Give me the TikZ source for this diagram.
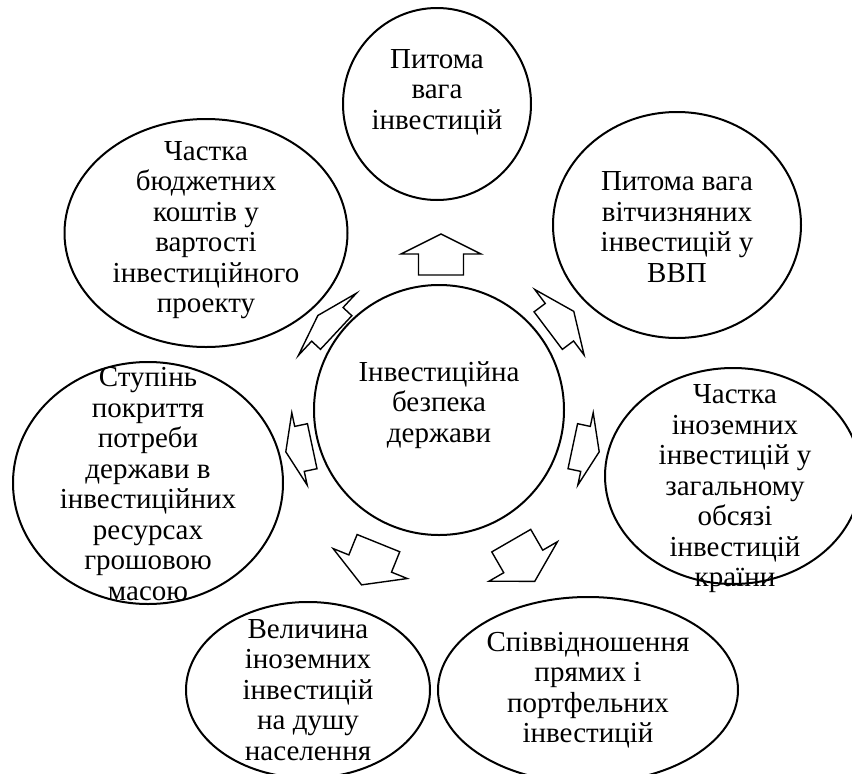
\documentclass[tikz,border=0pt]{standalone}
\usepackage{fontspec}
\setmainfont{Liberation Serif}
\usetikzlibrary{shapes.geometric}
\tikzset{
 ell/.style={draw, ellipse, line width=2pt, inner sep=0pt},
 lbl/.style={inner sep=0pt, align=center, font=\fontsize{29}{30.5}\selectfont},
 barrow/.style={draw, line width=1.4pt, line join=miter, fill=white},
}
\newcommand{\blockarr}[7]{%
 \pgfmathsetmacro{\bxa}{-(#6+#7)/2}%
 \pgfmathsetmacro{\bxm}{-(#6+#7)/2+#7}%
 \pgfmathsetmacro{\bxt}{(#6+#7)/2}%
 \draw[barrow,shift={(#1,-#2)},rotate=#3] (\bxa,-#5/2) -- (\bxm,-#5/2) -- (\bxm,-#4/2) -- (\bxt,0) -- (\bxm,#4/2) -- (\bxm,#5/2) -- (\bxa,#5/2) -- cycle;}
\begin{document}
\begin{tikzpicture}[x=1pt,y=1pt]
\useasboundingbox (0,0) rectangle (852,-774);
\fill[white] (0,0) rectangle (852,-774);
% ellipses
\node[ell, minimum width=250pt, minimum height=250pt] (c) at (439,-410) {};
\node[ell, minimum width=188pt, minimum height=192pt] (t) at (437,-104) {};
\node[ell, minimum width=248pt, minimum height=226pt] (tr) at (677,-225) {};
\node[ell, minimum width=256pt, minimum height=216pt] (r) at (733,-476) {};
\node[ell, minimum width=300pt, minimum height=186pt] (br) at (588,-690) {};
\node[ell, minimum width=244pt, minimum height=176pt] (bl) at (308,-690) {};
\node[ell, minimum width=270pt, minimum height=242pt] (l) at (148,-483) {};
\node[ell, minimum width=283pt, minimum height=228pt] (tl) at (206,-233) {};
% texts
\node[lbl] (c-t) at (439,-405) {Інвестиційна\\безпека\\держави};
\node[lbl] (t-t) at (437,-92) {Питома\\вага\\інвестицій};
\node[lbl] (tr-t) at (677,-227) {Питома вага\\вітчизняних\\інвестицій у\\ВВП};
\node[lbl] (r-t) at (735,-489) {Частка\\іноземних\\інвестицій у\\загальному\\обсязі\\інвестицій\\країни};
\node[lbl] (br-t) at (588,-690) {Співвідношення\\прямих і\\портфельних\\інвестицій};
\node[lbl] (bl-t) at (308,-690) {Величина\\іноземних\\інвестицій\\на душу\\населення};
\node[lbl] (l-t) at (148,-484) {Ступінь\\покриття\\потреби\\держави в\\інвестиційних\\ресурсах\\грошовою\\масою};
\node[lbl] (tl-t) at (206,-230) {Частка\\бюджетних\\коштів у\\вартості\\інвестиційного\\проекту};
% block arrows
\blockarr{441}{254.5}{90}{80}{45}{20}{21}
\blockarr{561}{321}{37}{82}{47}{18}{14}
\blockarr{586}{449}{-12}{74}{46}{14}{13}
\blockarr{523}{561}{-60}{79}{45}{23}{24}
\blockarr{370}{564}{-112}{80}{46}{23}{22}
\blockarr{299}{449}{192}{74}{46}{14}{13}
\blockarr{327}{324}{137}{85}{46}{13}{12}
\end{tikzpicture}
\end{document}
